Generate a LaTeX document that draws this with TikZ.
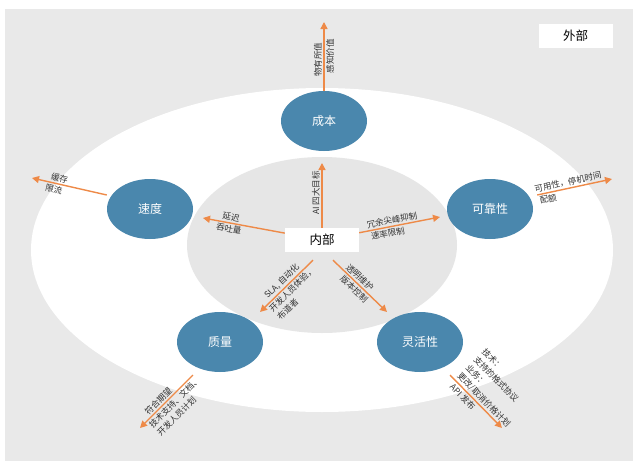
\documentclass[tikz,border=0pt]{standalone}
\usepackage{fontspec}
\setmainfont{Noto Sans CJK SC}
\usetikzlibrary{arrows.meta,calc,shapes.geometric}
\definecolor{bgc}{HTML}{E9E9E9}
\definecolor{innerc}{HTML}{E6E6E6}
\definecolor{nodeblue}{HTML}{4A87AD}
\definecolor{arrorange}{HTML}{EE8A48}
\definecolor{txt}{HTML}{333333}
\begin{document}
\begin{tikzpicture}[x=1pt,y=-1pt,
 goal/.style={ellipse, fill=nodeblue, text=white, minimum width=86pt, minimum height=60pt, inner sep=0pt, font=\fontsize{12}{14}\selectfont},
 tagbox/.style={fill=white, minimum width=74pt, minimum height=24pt, inner sep=0pt, font=\fontsize{12.5}{14}\selectfont, text=black},
 arr/.style={draw=arrorange, line width=1.4pt, -{Triangle[width=7pt,length=7pt]}},
 lbl/.style={font=\fontsize{8.5}{11.5}\selectfont, text=txt, sloped, inner sep=1.5pt, align=left}
]
\useasboundingbox (0,0) rectangle (633,461);
\fill[bgc] (5,9) rectangle (633,461);
\fill[white] (322,250) ellipse [x radius=291, y radius=162];
\fill[innerc] (322,245) ellipse [x radius=135, y radius=88];

\node[goal] (cost) at (324,121) {成本};
\node[goal] (speed) at (150,209) {速度};
\node[goal] (rel) at (490,209) {可靠性};
\node[goal] (quality) at (220,342) {质量};
\node[goal] (flex) at (420,342) {灵活性};
\node[tagbox] (inner) at (322,240) {内部};
\node[tagbox] (outer) at (575.5,36) {外部};

\coordinate (costTip) at (324,22);
\coordinate (aiTip) at (322,163);
\coordinate (latTip) at (203,218);
\coordinate (rateTip) at (440,217);
\coordinate (llTip) at (260,312);
\coordinate (lrTip) at (387,312);
\coordinate (cacheTip) at (32,178);
\coordinate (availTip) at (612,179);
\coordinate (qTip) at (140,428);
\coordinate (fTip) at (502,428);

\draw[arr] (cost) -- (costTip)
  node[lbl,pos=0.45,above]{物有所值} node[lbl,pos=0.5,below]{感知价值};
\draw[arr] (inner) -- (aiTip)
  node[lbl,pos=0.54,above]{AI 四大目标};
\draw[arr] (inner) -- (latTip)
  node[lbl,pos=0.67,above]{延迟} node[lbl,pos=0.67,below]{吞吐量};
\draw[arr] (inner) -- (rateTip)
  node[lbl,pos=0.42,above]{冗余尖峰抑制} node[lbl,pos=0.34,below]{速率限制};
\draw[arr] ($(inner.south)+(-9,8)$) -- (llTip)
  node[lbl,pos=0.5,above]{SLA, 自动化} node[lbl,pos=0.48,below]{开发人员体验，\\布道者};
\draw[arr] ($(inner.south)+(11,8)$) -- (lrTip)
  node[lbl,pos=0.42,above]{透明维护} node[lbl,pos=0.47,below]{版本控制};
\draw[arr] ($(speed.west)+(0,-14)$) -- (cacheTip)
  node[lbl,pos=0.65,above]{缓存} node[lbl,pos=0.69,below]{限流};
\draw[arr] ($(rel.east)+(4,-14)$) -- (availTip)
  node[lbl,pos=0.43,above]{可用性，停机时间} node[lbl,pos=0.13,below]{配额};
\draw[arr] ($(quality.center)+(-27,33)$) -- (qTip)
  node[lbl,pos=0.57,above]{符合期望} node[lbl,pos=0.43,below]{技术支持、文档、\\开发人员计划};
\draw[arr] ($(flex.center)+(30,33)$) -- (fTip)
  node[lbl,pos=0.33,below]{API 发布} node[lbl,pos=0.56,above]{技术：\\支持的格式协议\\业务：\\更改/取消价格计划};
\end{tikzpicture}
\end{document}
